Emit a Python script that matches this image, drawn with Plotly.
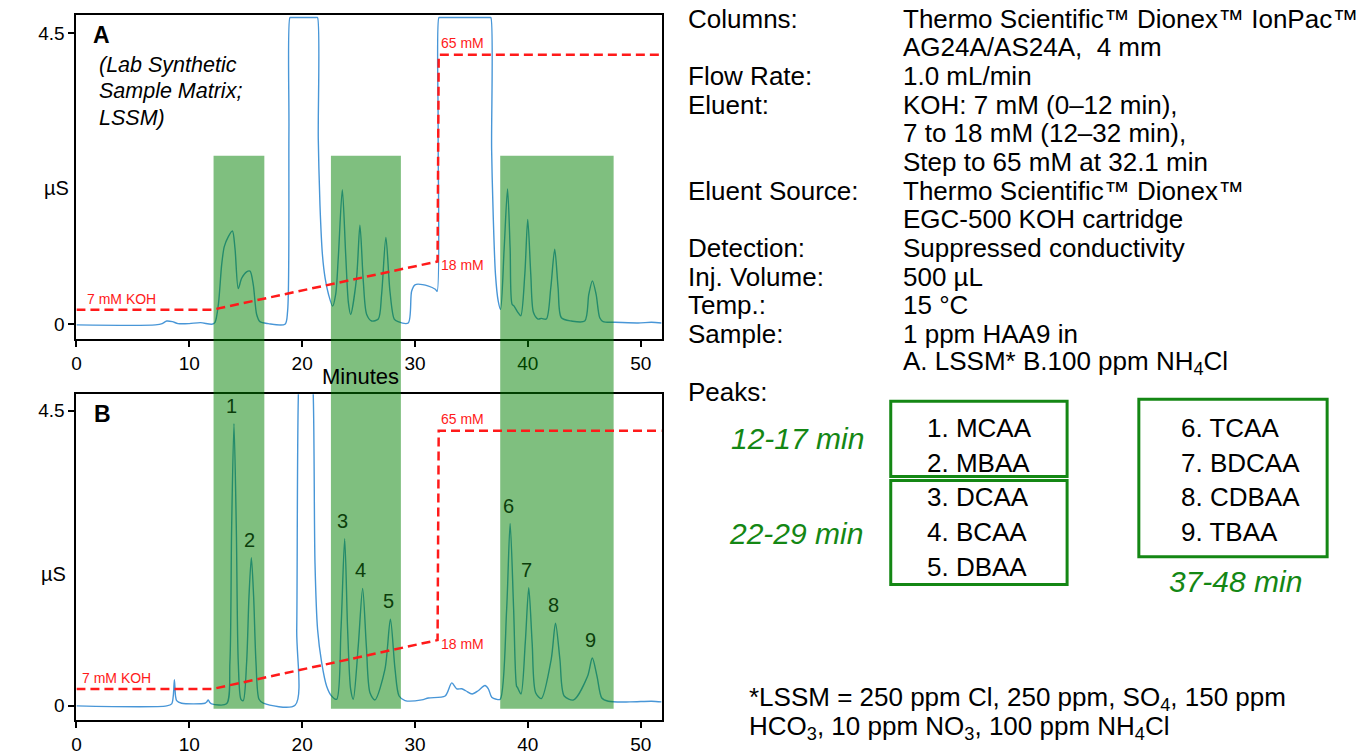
import plotly.graph_objects as go

# ---------------- data ----------------
# Panel A: 1 ppm HAA9 in LSSM  (time in min, signal in µS)
time_A = [0, 7.0, 7.6, 8.0, 8.5, 9.0, 10.0, 11.0, 12.0, 12.28, 12.58, 12.87, 13.1, 13.45, 13.82,
          14.05, 14.34, 14.64, 15.08, 15.38, 15.67, 15.97, 16.26, 17.0, 18.48, 18.71, 18.83,
          18.92, 19.02, 21.25, 21.36, 21.43, 21.58, 21.8, 22.04, 22.34, 22.7, 22.97, 23.2, 23.56,
          23.86, 24.1, 24.3, 24.82, 25.12, 25.42, 25.72, 26.16, 26.75, 27.04, 27.42, 27.78, 28.16,
          28.5, 29.4, 29.7, 30.0, 31.2, 31.8, 31.96, 32.05, 32.12, 32.22, 36.62, 36.72, 36.79,
          36.93, 37.13, 37.37, 37.58, 37.9, 38.2, 38.43, 38.6, 38.78, 39.13, 39.37, 39.73, 39.99,
          40.26, 40.5, 40.9, 41.2, 41.64, 42.03, 42.38, 42.68, 42.97, 43.86, 45.04, 45.4, 45.72,
          46.05, 46.37, 46.67, 47.7, 49.77, 50.95, 51.85]
signal_A = [-0.01, -0.01, 0.01, 0.05, 0.04, 0.01, 0.01, 0.025, 0.0, 0.03, 0.31, 0.92, 1.20, 1.35, 1.44,
            1.17, 0.55, 0.71, 0.81, 0.82, 0.61, 0.15, 0.04, 0.01, 0.0, 0.2, 3.0,
            4.74, 4.74, 4.74, 4.74, 2.86, 1.84, 1.07, 0.71, 0.46, 0.28, 0.46, 1.02, 2.08,
            1.07, 0.33, 0.15, 0.71, 1.53, 0.66, 0.15, 0.05, 0.08, 0.46, 1.34, 0.51, 0.08,
            0.04, 0.02, 0.51, 0.61, 0.59, 0.54, 0.51, 3.0, 4.74, 4.74, 4.74, 4.74, 2.70,
            1.68, 0.77, 0.36, 0.23, 1.17, 2.09, 1.17, 0.31, 0.28, 0.18, 0.13, 0.77, 1.62,
            0.77, 0.18, 0.08, 0.09, 0.08, 0.56, 1.16, 0.56, 0.10, 0.05, 0.05, 0.46, 0.67,
            0.46, 0.10, 0.04, 0.03, 0.02, 0.03, 0.02]

# Panel B: 1 ppm HAA9 in 100 ppm NH4Cl
time_B = [0, 8.0, 8.44, 8.58, 8.68, 8.78, 8.88, 9.32, 11.39, 11.55, 11.68, 11.82, 11.98,
          13.3, 13.6, 13.75, 13.96, 14.17, 14.34, 14.58, 14.78, 15.08, 15.29, 15.5, 15.7, 15.91,
          16.18, 16.56, 19.37, 19.52, 19.66, 20.3, 20.99, 21.14, 21.37, 21.73, 22.17, 22.61, 23.06,
          23.44, 23.77, 24.03, 24.3, 24.53, 24.97, 25.36, 25.69, 26.01, 26.45, 27.34, 27.82, 28.23,
          28.59, 29.12, 30.6, 31.19, 32.67, 33.26, 33.7, 34.15, 34.5, 35.06, 35.6, 36.2, 36.5, 36.8,
          37.2, 37.55, 38.12, 38.43, 38.74, 39.0, 39.08, 39.39, 39.77, 40.08, 40.38, 40.69, 41.19,
          42.07, 42.45, 42.84, 43.22, 44.06, 45.29, 45.71, 46.13, 46.55, 47.13, 49.04, 50.96, 51.85]
signal_B = [0.0, 0.0, 0.03, 0.15, 0.40, 0.15, 0.08, 0.04, 0.04, 0.06, 0.09, 0.05, 0.03,
            0.03, 0.66, 2.68, 4.30, 2.68, 0.66, 0.10, 0.08, 0.66, 1.67, 2.26, 1.67, 0.66,
            0.10, 0.04, 0.01, 1.16, 4.70, 8.0, 4.70, 2.17, 1.16, 0.66, 0.30, 0.15, 0.10,
            1.16, 2.55, 1.16, 0.25, 0.10, 0.91, 1.79, 0.91, 0.20, 0.09, 0.56, 1.32, 0.56,
            0.15, 0.08, 0.09, 0.12, 0.15, 0.35, 0.26, 0.26, 0.23, 0.18, 0.23, 0.31, 0.26, 0.13,
            0.10, 0.10, 1.47, 2.78, 1.47, 0.30, 0.28, 0.18, 0.96, 1.80, 0.96, 0.20, 0.11,
            0.71, 1.26, 0.71, 0.15, 0.09, 0.45, 0.73, 0.45, 0.12, 0.07, 0.06, 0.07, 0.06]

# Eluent program (KOH, mM)
eluent_time = [0, 12, 32, 32.1, 51.85]
eluent_mM = [7, 7, 18, 65, 65]

# Labelled peaks in panel B
peak_labels = ["1", "2", "3", "4", "5", "6", "7", "8", "9"]
peak_rt = [13.96, 15.5, 23.77, 25.36, 27.82, 38.43, 40.08, 42.45, 45.71]
peak_height_B = [4.30, 2.26, 2.55, 1.79, 1.32, 2.78, 1.80, 1.26, 0.73]

# Retention windows (min)
window_start = [12.15, 22.55, 37.55]
window_end = [16.65, 28.75, 47.6]

x_ticks = [0, 10, 20, 30, 40, 50]
y_ticks = [0, 4.5]
y_ticktext = ["0", "4.5"]

# Conditions text
cond_labels = ["Columns:", "", "Flow Rate:", "Eluent:", "", "", "Eluent Source:", "",
               "Detection:", "Inj. Volume:", "Temp.:", "Sample:", "", "Peaks:"]
cond_values = ["Thermo Scientific™ Dionex™ IonPac™", "AG24A/AS24A,  4 mm", "1.0 mL/min",
               "KOH: 7 mM (0–12 min),", "7 to 18 mM (12–32 min),", "Step to 65 mM at 32.1 min",
               "Thermo Scientific™ Dionex™", "EGC-500 KOH cartridge", "Suppressed conductivity",
               "500 µL", "15 °C", "1 ppm HAA9 in", "A. LSSM* B.100 ppm NH<sub>4</sub>Cl", ""]

group1 = ["1. MCAA", "2. MBAA"]
group2 = ["3. DCAA", "4. BCAA", "5. DBAA"]
group3 = ["6. TCAA", "7. BDCAA", "8. CDBAA", "9. TBAA"]
group_titles = ["12-17 min", "22-29 min", "37-48 min"]

footnote = ["*LSSM = 250 ppm Cl, 250 ppm, SO<sub>4</sub>, 150 ppm",
            "HCO<sub>3</sub>, 10 ppm NO<sub>3</sub>, 100 ppm NH<sub>4</sub>Cl"]

# ---------------- layout helpers ----------------
W, H = 1365, 755
FONT = "Liberation Sans, Arial, sans-serif"
TRACE = "rgb(72,150,215)"
GREEN = "rgb(20,135,20)"


def px(x):
    return x / W


def py(y):
    return 1 - y / H


xdom = [px(71.7), px(659)]
ydomA = [py(342.3), py(15)]
ydomB = [py(727), py(398)]

fig = go.Figure()
fig.add_trace(go.Scatter(x=time_A, y=signal_A, mode="lines", xaxis="x", yaxis="y",
                         line=dict(color=TRACE, width=1.4, shape="spline", smoothing=0.8),
                         showlegend=False, hoverinfo="skip"))
fig.add_trace(go.Scatter(x=time_B, y=signal_B, mode="lines", xaxis="x2", yaxis="y2",
                         line=dict(color=TRACE, width=1.4, shape="spline", smoothing=0.8),
                         showlegend=False, hoverinfo="skip"))
# invisible helpers so the eluent axes exist
fig.add_trace(go.Scatter(x=eluent_time, y=eluent_mM, mode="lines", xaxis="x", yaxis="y3",
                         line=dict(width=0), opacity=0, showlegend=False, hoverinfo="skip"))
fig.add_trace(go.Scatter(x=eluent_time, y=eluent_mM, mode="lines", xaxis="x2", yaxis="y4",
                         line=dict(width=0), opacity=0, showlegend=False, hoverinfo="skip"))

axis_common = dict(showline=True, linewidth=2, linecolor="black", mirror=True, showgrid=False,
                   zeroline=False, ticks="outside", ticklen=6, tickwidth=1.5, tickcolor="black",
                   tickfont=dict(size=19, color="black", family=FONT))

fig.update_layout(
    width=W, height=H, autosize=False,
    margin=dict(l=0, r=0, t=0, b=0),
    paper_bgcolor="white", plot_bgcolor="white",
    font=dict(family=FONT, color="black"),
    hovermode=False,
    xaxis=dict(domain=xdom, range=[0, 51.85], anchor="y", tickvals=x_ticks, **axis_common),
    yaxis=dict(domain=ydomA, range=[-0.23, 4.78], anchor="x", tickvals=y_ticks,
               ticktext=y_ticktext, **axis_common),
    xaxis2=dict(domain=xdom, range=[0, 51.85], anchor="y2", tickvals=x_ticks, **axis_common),
    yaxis2=dict(domain=ydomB, range=[-0.22, 4.75], anchor="x2", tickvals=y_ticks,
                ticktext=y_ticktext, **axis_common),
    yaxis3=dict(overlaying="y", range=[0.33, 74.1], visible=False, anchor="x"),
    yaxis4=dict(overlaying="y2", range=[0.0, 73.2], visible=False, anchor="x2"),
)

shapes = []
for s, e in zip(window_start, window_end):
    shapes.append(dict(type="rect", xref="x", yref="paper", x0=s, x1=e, y0=py(715.5), y1=py(157.3),
                       fillcolor="rgba(0,128,0,0.5)", line=dict(width=0), layer="above"))
path = "M " + " L ".join(f"{t},{c}" for t, c in zip(eluent_time, eluent_mM))
for xr, yr in [("x", "y3"), ("x2", "y4")]:
    shapes.append(dict(type="path", path=path, xref=xr, yref=yr, layer="above",
                       line=dict(color="#ff1a1a", width=2.5, dash="9px,5px")))

# peak boxes
box_line = dict(color=GREEN, width=3)
for x0, y0, x1, y1 in [(889, 405, 1066, 481), (889, 485, 1066, 590), (1138, 403, 1327, 562)]:
    shapes.append(dict(type="rect", xref="paper", yref="paper", x0=px(x0), x1=px(x1),
                       y0=py(y1), y1=py(y0), line=box_line, fillcolor="rgba(0,0,0,0)"))
fig.update_layout(shapes=shapes)

ann = []


def txt(x, y, text, size, color="black", xanchor="left", yanchor="middle", italic=False,
        bold=False, **kw):
    t = text
    if bold:
        t = f"<b>{t}</b>"
    if italic:
        t = f"<i>{t}</i>"
    d = dict(x=x, y=y, text=t, showarrow=False, xanchor=xanchor, yanchor=yanchor,
             font=dict(size=size, color=color, family=FONT))
    d.update(kw)
    if "xref" not in d:
        d["xref"] = "paper"
    if "yref" not in d:
        d["yref"] = "paper"
    ann.append(d)


# eluent labels
RED = "#ff1a1a"
txt(0.75, eluent_mM[0], "7 mM KOH", 14, RED, yanchor="bottom", xref="x", yref="y3", yshift=1)
txt(0.35, eluent_mM[0], "7 mM KOH", 14, RED, yanchor="bottom", xref="x2", yref="y4", yshift=1)
for xr, yr in [("x", "y3"), ("x2", "y4")]:
    txt(32.1, eluent_mM[2], "18 mM", 14, RED, xref=xr, yref=yr, yshift=-4)
    txt(32.1, eluent_mM[3], "65 mM", 14, RED, yanchor="bottom", xref=xr, yref=yr, yshift=2)

# peak numbers
for lab, rt, h in zip(peak_labels, peak_rt, peak_height_B):
    txt(rt, h, lab, 20, "rgb(12,62,12)", xanchor="center", xref="x2", yref="y2", yshift=18,
        xshift=-2)

# panel annotations
txt(px(86), py(35), "A", 23, bold=True)
txt(px(87), py(418), "B", 23, bold=True)
for i, line in enumerate(["(Lab Synthetic", "Sample Matrix;", "LSSM)"]):
    txt(px(92), py(66 + 26.3 * i), line, 21.5, italic=True)
txt(px(52), py(190), "µS", 20, xanchor="center")
txt(px(49), py(579), "µS", 20, xanchor="center")
txt(px(357), py(380), "Minutes", 22, xanchor="center")

# conditions block
for i, (lab, val) in enumerate(zip(cond_labels, cond_values)):
    yy = 19 + 28.9 * i if i < 13 else 396
    if lab:
        txt(px(684), py(yy), lab, 26)
    if val:
        txt(px(899), py(yy), val, 26)

# peak groups
for i, s in enumerate(group1 + group2):
    txt(px(923), py(432 + 35 * i), s, 26)
for i, s in enumerate(group3):
    txt(px(1178), py(432 + 35 * i), s, 26)
txt(px(795), py(443), group_titles[0], 30, GREEN, xanchor="center", italic=True)
txt(px(794), py(538), group_titles[1], 30, GREEN, xanchor="center", italic=True)
txt(px(1235), py(587), group_titles[2], 30, GREEN, xanchor="center", italic=True)

# footnote
txt(px(745), py(705), footnote[0], 26)
txt(px(745), py(734), footnote[1], 26)

fig.update_layout(annotations=ann)

fig.write_html("out.html", config={"displayModeBar": False},
               post_script="document.body.style.margin='0';")
